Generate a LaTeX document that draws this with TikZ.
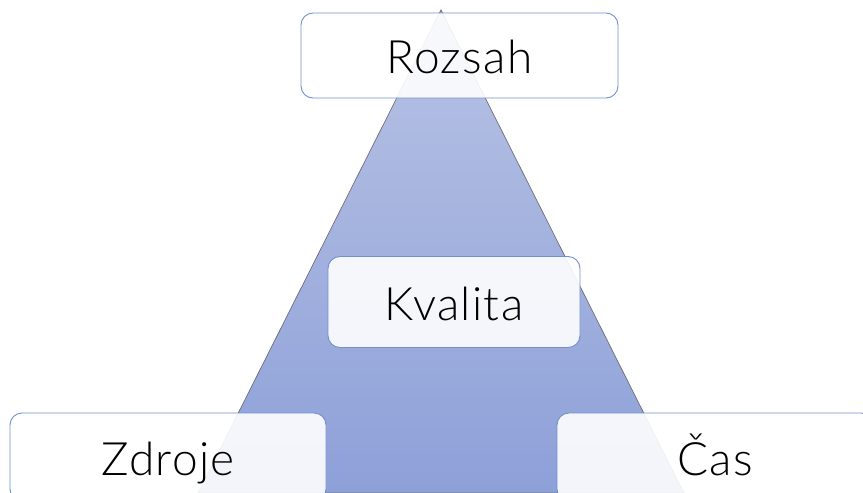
\documentclass[tikz,border=0pt]{standalone}
\usepackage{fontspec}
\setmainfont{Lato}[UprightFont=* Light]
\begin{document}
\begin{tikzpicture}[x=1pt,y=-1pt,
  box/.style={draw=boxline, line width=0.9pt, fill=white, fill opacity=0.9,
    text opacity=1, rounded corners=12pt, inner sep=0pt,
    text height=36pt, text depth=0pt,
    font=\fontsize{46}{52}\selectfont\addfontfeature{LetterSpace=3}}]
  \definecolor{boxline}{HTML}{7090D0}
  \definecolor{topblue}{HTML}{B8C2E4}
  \definecolor{botblue}{HTML}{8DA0D8}
  \definecolor{edge}{HTML}{6B6E78}
  % canvas
  \useasboundingbox (0,0) rectangle (863,493);
  \begin{scope}
    \clip (0,0) rectangle (863,493);
    % pyramid
    \shade[top color=topblue, bottom color=botblue, draw=edge, line width=0.7pt]
      (441,10) -- (684,493) -- (198,493) -- cycle;
    % boxes
    \node[box, minimum width=317pt, minimum height=85pt] (rozsah) at (459.5,55.5) {Rozsah};
    \node[box, minimum width=252pt, minimum height=91pt] (kvalita) at (454,302) {Kvalita};
    \node[box, minimum width=316pt, minimum height=88pt] (zdroje) at (168,457) {Zdroje};
    \node[box, minimum width=316pt, minimum height=88pt] (cas) at (715,457) {Čas};
  \end{scope}
\end{tikzpicture}
\end{document}
